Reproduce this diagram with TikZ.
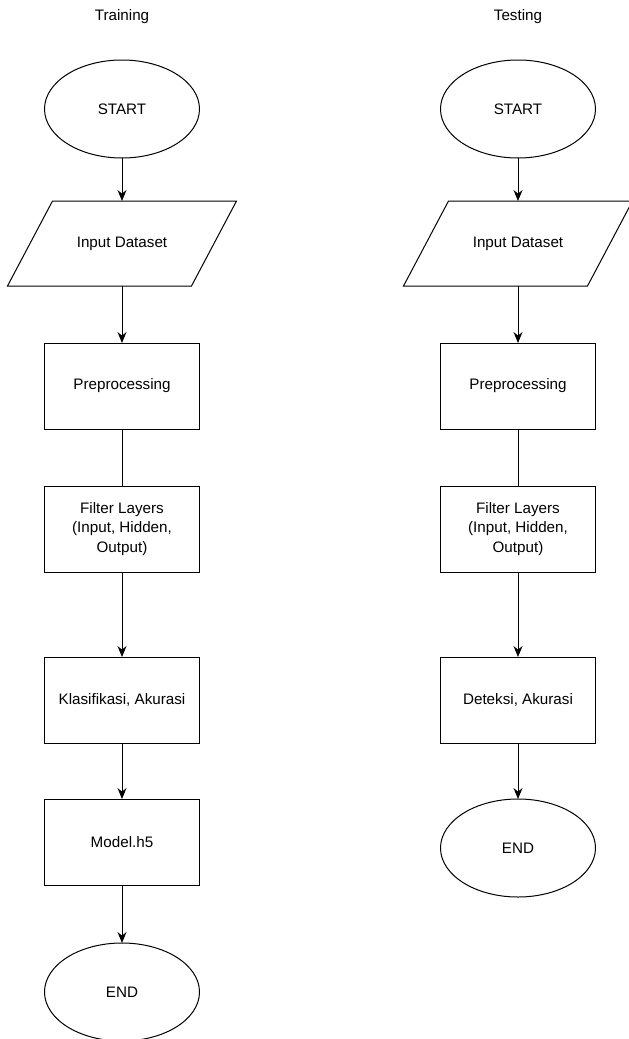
\documentclass[tikz,border=0pt]{standalone}
\usepackage{fontspec}
\setmainfont{Liberation Sans}
\usetikzlibrary{positioning,shapes.geometric,arrows.meta}

\tikzset{
  every node/.style={font=\fontsize{15.2}{19.5}\selectfont, align=center, outer sep=0pt},
  term/.style={draw, ellipse, minimum width=155pt, minimum height=98pt, inner sep=0pt, line width=1pt},
  io/.style={rectangle, minimum width=184pt, minimum height=85pt, inner sep=0pt},
  proc/.style={draw, rectangle, minimum width=155pt, minimum height=86pt, inner sep=0pt, line width=1pt},
  flow/.style={-{Stealth[length=11pt,width=9pt]}, line width=1pt},
  link/.style={line width=1pt}
}

\begin{document}
\begin{tikzpicture}[x=1pt,y=-1pt]
    \useasboundingbox (0,0) rectangle (629,1039);

    % training
    \node (ttrain) at (122,17) {Training};
    \node[term] (start1) at (122,109) {START};
    \node[io, below=43pt of start1] (input1) {Input Dataset};
    \node[proc, below=57pt of input1] (pre1) {Preprocessing};
    \node[proc, below=57pt of pre1] (filter1) {Filter Layers\\(Input, Hidden,\\Output)};
    \node[proc, below=85pt of filter1] (klas1) {Klasifikasi, Akurasi};
    \node[proc, below=56pt of klas1] (model1) {Model.h5};
    \node[term, below=58pt of model1] (end1) {END};

    \draw[flow] (start1) -- (input1);
    \draw[flow] (input1) -- (pre1);
    \draw[link] (pre1) -- (filter1);
    \draw[flow] (filter1) -- (klas1);
    \draw[flow] (klas1) -- (model1);
    \draw[flow] (model1) -- (end1);

    % testing
    \node (ttest) at (518,17) {Testing};
    \node[term] (start2) at (518,109) {START};
    \node[io, below=43pt of start2] (input2) {Input Dataset};
    \node[proc, below=57pt of input2] (pre2) {Preprocessing};
    \node[proc, below=57pt of pre2] (filter2) {Filter Layers\\(Input, Hidden,\\Output)};
    \node[proc, below=85pt of filter2] (det2) {Deteksi, Akurasi};
    \node[term, below=56pt of det2] (end2) {END};

    \draw[flow] (start2) -- (input2);
    \draw[flow] (input2) -- (pre2);
    \draw[link] (pre2) -- (filter2);
    \draw[flow] (filter2) -- (det2);
    \draw[flow] (det2) -- (end2);

    % slanted input boxes
    \foreach \n in {input1,input2}
        \draw[link] ([xshift=22.5pt]\n.north west) -- ([xshift=22.5pt]\n.north east)
            -- ([xshift=-22.5pt]\n.south east) -- ([xshift=-22.5pt]\n.south west) -- cycle;
\end{tikzpicture}
\end{document}
